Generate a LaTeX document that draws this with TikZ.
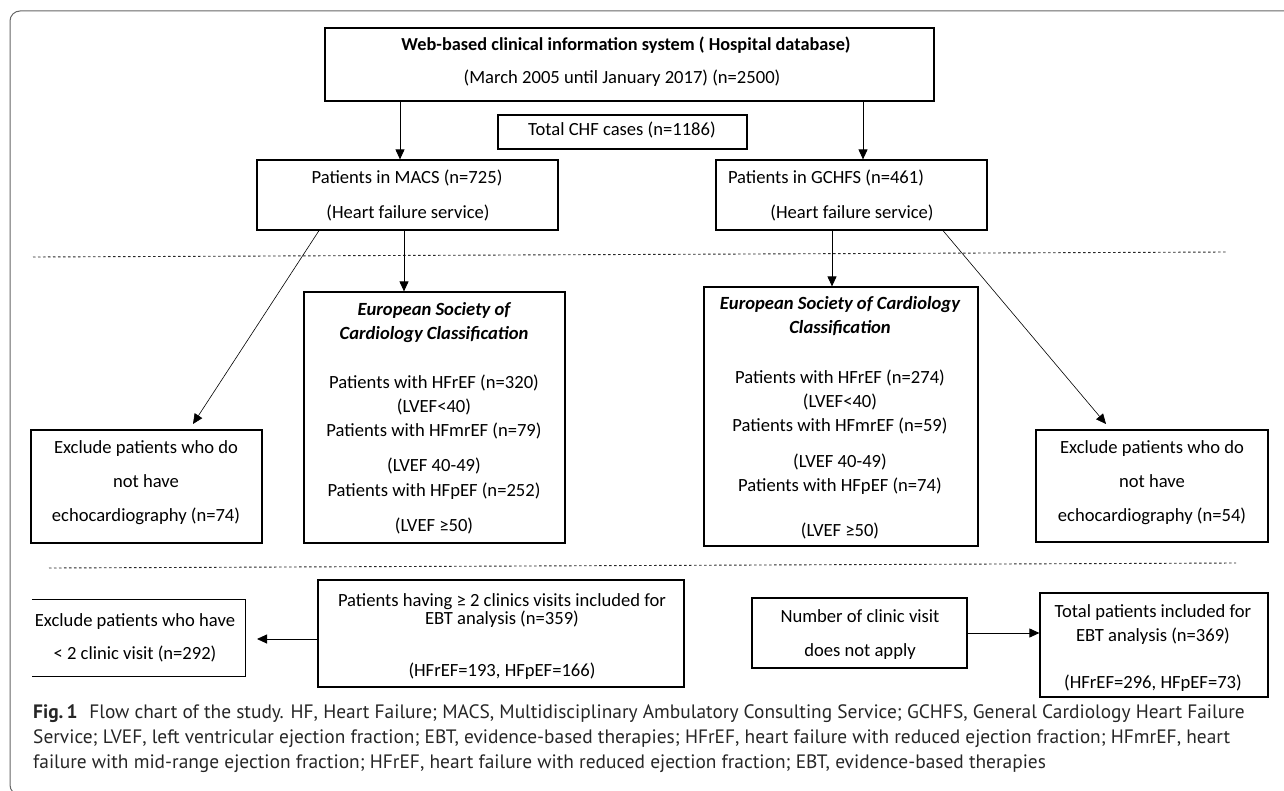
\documentclass[tikz,border=0pt]{standalone}
\usepackage{fontspec}
\setmainfont{Carlito}
\newfontfamily\capfont{PT Sans}
\usetikzlibrary{arrows.meta}
\tikzset{
  box/.style={draw, line width=1.2pt, inner sep=0pt},
  openbox/.style={inner sep=0pt},
  txt/.style={inner sep=0pt, font=\fontsize{18.6pt}{20pt}\selectfont, text height=12pt, text depth=4pt},
  htxt/.style={txt, font=\fontsize{18.6pt}{20pt}\selectfont\bfseries\itshape},
  captxt/.style={inner sep=0pt, anchor=west, text=black!85, font=\capfont\fontsize{19.4pt}{22pt}\selectfont, text height=13pt, text depth=4pt},
  arr/.style={-{Triangle[length=10pt,width=9pt]}, line width=0.9pt},
  diag/.style={-{Triangle[length=10pt,width=9pt]}, line width=0.6pt},
  sep/.style={dash pattern=on 2.5pt off 2.5pt, line width=0.9pt, black!85},
}
\begin{document}
\begin{tikzpicture}[x=1pt,y=-1pt]
\useasboundingbox (0,0) rectangle (1284,791);
\clip (0,0) rectangle (1284,791);
% outer frame
\draw[black!60, line width=1pt, rounded corners=10pt] (10,11) rectangle (1300,795);

% boxes
\node[box, minimum width=609pt, minimum height=73pt] (top) at (629.5,64.5) {};
\node[box, minimum width=249pt, minimum height=34pt] (chf) at (622.5,132) {};
\node[box, minimum width=301pt, minimum height=70pt] (macs) at (407.5,195) {};
\node[box, minimum width=271pt, minimum height=70pt] (gchfs) at (851.5,195) {};
\node[box, minimum width=261pt, minimum height=251pt] (escL) at (434.5,417.5) {};
\node[box, minimum width=274pt, minimum height=259pt] (escR) at (841,416.5) {};
\node[box, minimum width=231pt, minimum height=113pt] (exL) at (146.5,486.5) {};
\node[box, minimum width=232pt, minimum height=112pt] (exR) at (1152,486) {};
\node[openbox, minimum width=213pt, minimum height=76pt] (exc2) at (138.5,638) {};
\draw[line width=1.2pt] (exc2.north west) -- (exc2.north east) -- (exc2.south east) -- (exc2.south west);
\node[box, minimum width=366pt, minimum height=107pt] (ebt) at (501,633.5) {};
\node[box, minimum width=215pt, minimum height=70pt] (num) at (859.5,633) {};
\node[box, minimum width=228pt, minimum height=104pt] (tot) at (1154,645) {};

% texts
\node[txt, font=\fontsize{18.3pt}{20pt}\selectfont\bfseries] (t1) at (626,47) {Web-based clinical information system ( Hospital database)};
\node[txt] (t2) at (622,80) {(March 2005 until January 2017) (n=2500)};
\node[txt] (t3) at (622,132) {Total CHF cases (n=1186)};
\node[txt] (t4) at (407,180) {Patients in MACS (n=725)};
\node[txt] (t5) at (408,215) {(Heart failure service)};
\node[txt] (t6) at (826,180) {Patients in GCHFS (n=461)};
\node[txt] (t7) at (852,215) {(Heart failure service)};

\node[htxt] (l1) at (434,312) {European Society of};
\node[htxt] (l2) at (434,335) {Cardiology Classification};
\node[txt] (l3) at (434,384) {Patients with HFrEF (n=320)};
\node[txt] (l4) at (434,408) {(LVEF<40)};
\node[txt] (l5) at (434,432) {Patients with HFmrEF (n=79)};
\node[txt] (l6) at (434,467) {(LVEF 40-49)};
\node[txt] (l7) at (434,492) {Patients with HFpEF (n=252)};
\node[txt] (l8) at (434,527) {(LVEF ≥50)};

\node[htxt] (r1) at (840,306) {European Society of Cardiology};
\node[htxt] (r2) at (840,330) {Classification};
\node[txt] (r3) at (840,379) {Patients with HFrEF (n=274)};
\node[txt] (r4) at (840,403) {(LVEF<40)};
\node[txt] (r5) at (840,427) {Patients with HFmrEF (n=59)};
\node[txt] (r6) at (840,463) {(LVEF 40-49)};
\node[txt] (r7) at (840,487) {Patients with HFpEF (n=74)};
\node[txt] (r8) at (840,532) {(LVEF ≥50)};

\node[txt] (e1) at (146,449) {Exclude patients who do};
\node[txt] (e2) at (146,483) {not have};
\node[txt] (e3) at (146,517) {echocardiography (n=74)};
\node[txt] (f1) at (1152,449) {Exclude patients who do};
\node[txt] (f2) at (1152,483) {not have};
\node[txt] (f3) at (1152,517) {echocardiography (n=54)};

\node[txt] (g1) at (135,622) {Exclude patients who have};
\node[txt] (g2) at (135,655) {< 2 clinic visit (n=292)};
\node[txt] (h1) at (502,602) {Patients having ≥ 2 clinics visits included for};
\node[txt] (h2) at (502,620) {EBT analysis (n=359)};
\node[txt] (h3) at (502,672) {(HFrEF=193, HFpEF=166)};
\node[txt] (n1) at (860,618) {Number of clinic visit};
\node[txt] (n2) at (860,652) {does not apply};
\node[txt] (o1) at (1153,613) {Total patients included for};
\node[txt] (o2) at (1153,637) {EBT analysis (n=369)};
\node[txt] (o3) at (1153,684) {(HFrEF=296, HFpEF=73)};

% separators
\draw[sep] (33,257) -- (1227,252);
\draw[sep] (49,568) -- (1236,563);

% connectors
\coordinate (xa) at (400,0);
\coordinate (xb) at (863,0);
\coordinate (xc) at (404,0);
\coordinate (xd) at (832,0);
\coordinate (xe) at (319,0);
\coordinate (xf) at (943,0);
\coordinate (d1) at (193,424);
\coordinate (d2) at (1106,424);
\coordinate (a7) at (257,639);
\draw[arr] (top.south -| xa) -- (macs.north -| xa);
\draw[arr] (top.south -| xb) -- (gchfs.north -| xb);
\draw[arr] (macs.south -| xc) -- (escL.north -| xc);
\draw[arr] (gchfs.south -| xd) -- (escR.north -| xd);
\draw[diag] (macs.south -| xe) -- (d1);
\draw[diag] (gchfs.south -| xf) -- (d2);
\draw[arr] (ebt.west |- a7) -- (a7);
\draw[arr] (num.east) -- (tot.west |- num.east);

% caption
\node[captxt] (c1) at (33,714) {{\bfseries Fig.\,1}\hspace{0.6em}Flow chart of the study. HF, Heart Failure; MACS, Multidisciplinary Ambulatory Consulting Service; GCHFS, General Cardiology Heart Failure};
\node[captxt] (c2) at (33,739) {Service; LVEF, left ventricular ejection fraction; EBT, evidence-based therapies; HFrEF, heart failure with reduced ejection fraction; HFmrEF, heart};
\node[captxt] (c3) at (33,764) {failure with mid-range ejection fraction; HFrEF, heart failure with reduced ejection fraction; EBT, evidence-based therapies};
\end{tikzpicture}
\end{document}
